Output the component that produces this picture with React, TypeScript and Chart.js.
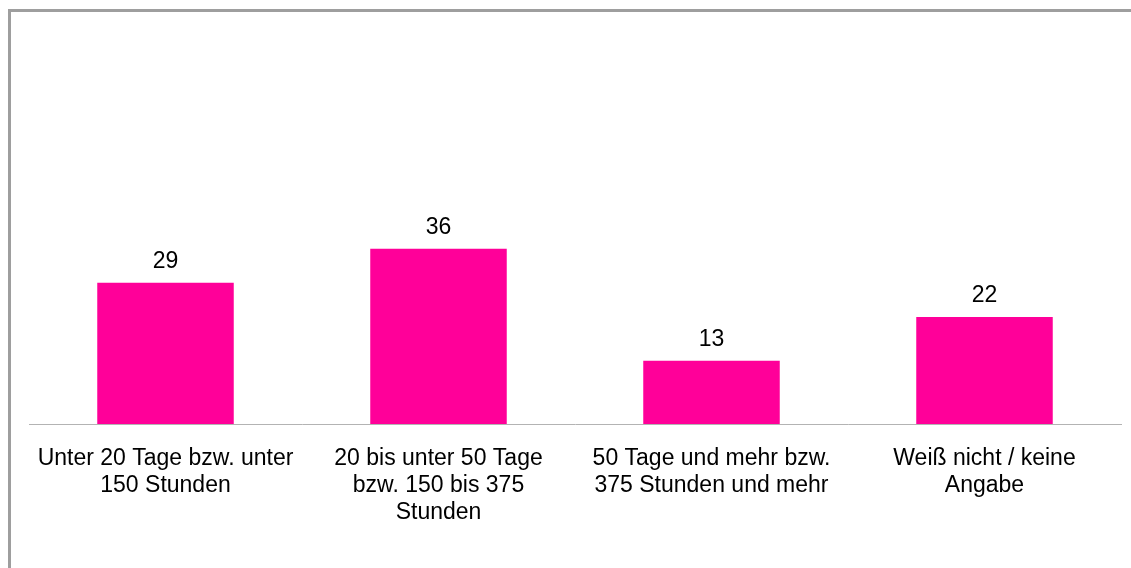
import React, { useEffect, useRef } from "react";
import { Chart, registerables } from "chart.js";

Chart.register(...registerables);

const categories: string[][] = [
  ["Unter 20 Tage bzw. unter", "150 Stunden"],
  ["20 bis unter 50 Tage", "bzw. 150 bis 375", "Stunden"],
  ["50 Tage und mehr bzw.", "375 Stunden und mehr"],
  ["Weiß nicht / keine", "Angabe"],
];
const values: number[] = [29, 36, 13, 22];

const FONT = "'Liberation Sans', Arial, sans-serif";

const valueLabels = {
  id: "valueLabels",
  afterDatasetsDraw(chart: any) {
    const ctx = chart.ctx;
    const meta = chart.getDatasetMeta(0);
    ctx.save();
    ctx.font = `23px ${FONT}`;
    ctx.fillStyle = "#000000";
    ctx.textAlign = "center";
    ctx.textBaseline = "alphabetic";
    meta.data.forEach((bar: any, i: number) => {
      ctx.fillText(String(values[i]), bar.x, bar.y - 15);
    });
    ctx.restore();
  },
};

export default function App() {
  const ref = useRef<HTMLCanvasElement | null>(null);
  useEffect(() => {
    if (!ref.current) return;
    const chart = new Chart(ref.current, {
      type: "bar",
      data: {
        labels: categories as any,
        datasets: [
          {
            data: values,
            backgroundColor: "#FF0099",
            borderWidth: 0,
            barPercentage: 0.5,
            categoryPercentage: 1,
          },
        ],
      },
      options: {
        animation: false,
        responsive: false,
        maintainAspectRatio: false,
        layout: { padding: { left: 29, right: 10, top: 34.5, bottom: 24 } },
        plugins: { legend: { display: false }, tooltip: { enabled: false } },
        scales: {
          x: {
            grid: { display: false, drawTicks: false },
            border: { display: true, color: "#b3b3b3", width: 1 },
            ticks: {
              color: "#000000",
              padding: 21.5,
              maxRotation: 0,
              autoSkip: false,
              font: { family: FONT, size: 23, lineHeight: 1.174 },
            },
            afterFit: (scale: any) => {
              scale.height = 120;
            },
          },
          y: {
            display: false,
            min: 0,
            max: 80,
          },
        },
      },
      plugins: [valueLabels],
    });
    return () => chart.destroy();
  }, []);

  return (
    <div>
      <div
        style={{
          position: "fixed",
          left: 8,
          top: 9,
          width: 2000,
          height: 2000,
          borderTop: "3px solid #9e9e9e",
          borderLeft: "3px solid #9e9e9e",
        }}
      />
      <canvas
        ref={ref}
        width={1131}
        height={568}
        style={{ position: "fixed", left: 0, top: 0, width: 1131, height: 568 }}
      />
    </div>
  );
}
